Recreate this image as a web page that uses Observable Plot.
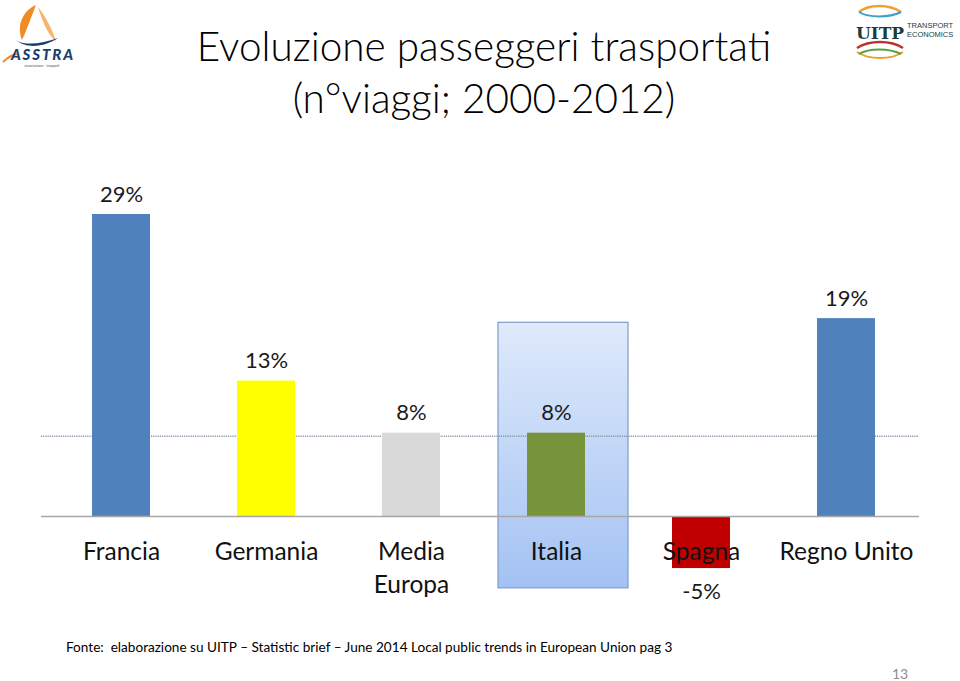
<!DOCTYPE html>
<html>
<head>
<meta charset="utf-8">
<script src="https://cdn.jsdelivr.net/npm/d3@7"></script>
<script src="https://cdn.jsdelivr.net/npm/@observablehq/plot@0.6"></script>
<style>
  html, body { margin: 0; padding: 0; background: #fff; }
  #page { position: relative; width: 960px; height: 681px; overflow: hidden; font-family: Lato, "Open Sans", sans-serif; }
  #chart { position: absolute; left: 0; top: 0; }
  .title { position: absolute; left: 0; width: 968px; text-align: center; font-size: 40.5px; color: #000; font-weight: 300; line-height: 1.2; }
  #foot { position: absolute; left: 66px; top: 639px; font-size: 13.6px; color: #000; }
  #pnum { position: absolute; left: 892px; top: 665px; font-size: 14px; color: #8c8c8c; }
  .logo { position: absolute; }
</style>
</head>
<body>
<div id="page">
  <div id="chart"></div>
  <div class="title" style="top:22px">Evoluzione passeggeri trasportati</div>
  <div class="title" style="top:74px">(n°viaggi; 2000-2012)</div>
  <div id="foot">Fonte:&nbsp; elaborazione su UITP – Statistic brief – June 2014 Local public trends in European Union pag 3</div>
  <div id="pnum">13</div>
  <svg class="logo" style="left:0;top:0" width="80" height="70" viewBox="0 0 80 70">
    <path d="M36 5 C24 10 16 24 22 40 C26 32 30 20 36 5 Z" fill="#f08a24"/>
    <path d="M38 7 C46 17 52 29 56 41 C50 37 44 27 38 7 Z" fill="#f3a34a" opacity="0.8"/>
    <path d="M16 40 C24 46 42 44 58 38 C46 46 28 50 16 40 Z" fill="#1c3f6e"/>
    <path d="M3 62 C8 57 12 55 17 54" stroke="#f08a24" stroke-width="2" fill="none"/>
    <text x="42" y="60" text-anchor="middle" font-family="Lato, sans-serif" font-weight="900" font-style="italic" font-size="15" fill="#1c3f6e" textLength="62">ASSTRA</text>
    <text x="42" y="67" text-anchor="middle" font-family="Lato, sans-serif" font-size="3.5" fill="#555">associazione · trasporti</text>
  </svg>
  <svg class="logo" style="left:855px;top:2px" width="105" height="60" viewBox="0 0 105 60">
    <path d="M4 10 C14 2 34 2 46 10" stroke="#f0a030" stroke-width="2.5" fill="none"/>
    <path d="M4 10 C14 16 34 16 46 10" stroke="#3aa0c8" stroke-width="2" fill="none"/>
    <path d="M2 46 C14 38 36 38 48 46" stroke="#c03030" stroke-width="2.5" fill="none"/>
    <path d="M2 50 C14 58 36 58 48 50" stroke="#f0a030" stroke-width="2" fill="none"/>
    <path d="M4 52 C14 46 34 46 46 52" stroke="#5aa040" stroke-width="2" fill="none"/>
    <text x="25" y="37" text-anchor="middle" font-family="'DejaVu Serif', serif" font-weight="bold" font-size="17" fill="#1b3d3a">UITP</text>
    <text x="52" y="26" font-family="'Liberation Sans', sans-serif" font-size="7.5" fill="#1b3d3a">TRANSPORT</text>
    <text x="52" y="35" font-family="'Liberation Sans', sans-serif" font-size="7.5" fill="#1b3d3a">ECONOMICS</text>
  </svg>
</div>
<script>
// ---- data ----
const categories = ["Francia", "Germania", "Media Europa", "Italia", "Spagna", "Regno Unito"];
const axisLabels = ["Francia", "Germania", "Media\nEuropa", "Italia", "Spagna", "Regno Unito"];
const values = [29, 13, 8, 8, -5, 19];
const valueLabels = ["29%", "13%", "8%", "8%", "-5%", "19%"];
const colors = ["#4f81bd", "#ffff00", "#d9d9d9", "#77933c", "#c00000", "#4f81bd"];
const europeAverage = 7.7;
const highlightCategory = "Italia";
const highlightRange = [-6.9, 18.6];

const data = categories.map((c, i) => ({
  category: c, label: axisLabels[i], value: values[i], text: valueLabels[i], color: colors[i]
}));
const highlight = [{category: highlightCategory, y1: highlightRange[0], y2: highlightRange[1]}];

const defs = () => {
  const d = d3.create("svg:defs");
  const g = d.append("linearGradient").attr("id", "hl").attr("x1", 0).attr("y1", 0).attr("x2", 0).attr("y2", 1);
  g.append("stop").attr("offset", "0%").attr("stop-color", "#dfeafb");
  g.append("stop").attr("offset", "100%").attr("stop-color", "#a3c2f3");
  return d.node();
};

const chart = Plot.plot({
  width: 960,
  height: 681,
  marginLeft: 48.5,
  marginRight: 41.5,
  marginTop: 151.5,
  marginBottom: 8.8,
  x: {domain: categories, paddingInner: 0.6, paddingOuter: 0.3, axis: null},
  y: {domain: [-15, 35], axis: null},
  style: {fontFamily: "Lato, 'Open Sans', sans-serif", background: "transparent", overflow: "visible"},
  marks: [
    defs,
    Plot.barY(highlight, {x: "category", y1: "y1", y2: "y2", fill: "url(#hl)", stroke: "#7f9ccc", strokeWidth: 1.2, insetLeft: -29, insetRight: -43}),
    Plot.ruleY([europeAverage], {stroke: "#8a97ab", strokeWidth: 1.5, strokeDasharray: "1.2,1", insetLeft: -7.5, insetRight: -0.5}),
    Plot.barY(data, {x: "category", y: "value", fill: "color"}),
    Plot.ruleY([0], {stroke: "#a6a6a6", strokeWidth: 1.6, insetLeft: -7.5, insetRight: -0.5}),
    Plot.text(data.filter(d => d.value >= 0), {x: "category", y: "value", text: "text", dy: -20, fontSize: 22, fill: "#1a1a1a"}),
    Plot.text(data.filter(d => d.value < 0), {x: "category", y: "value", text: "text", dy: 23, fontSize: 22, fill: "#1a1a1a"}),
    Plot.text(data, {x: "category", y: 0, text: "label", dy: 20, lineAnchor: "top", lineHeight: 1.36, fontSize: 24.5, fill: "#111"})
  ]
});
document.getElementById("chart").appendChild(chart);
</script>
</body>
</html>
